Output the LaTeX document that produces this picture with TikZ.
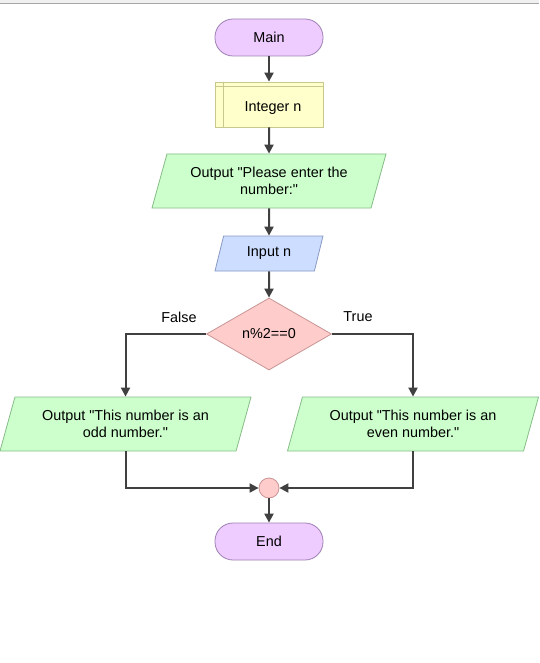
\documentclass[tikz,border=0pt]{standalone}
\usepackage{fontspec}
\setmainfont{Liberation Sans}[Ligatures=TeXOff]
\usetikzlibrary{arrows.meta, positioning, shapes.geometric}

\definecolor{termfill}{HTML}{EECCFF}
\definecolor{termline}{HTML}{9F80B3}
\definecolor{declfill}{HTML}{FFFFCC}
\definecolor{declline}{HTML}{C8C88C}
\definecolor{outfill}{HTML}{CCFFCC}
\definecolor{outline}{HTML}{86BC86}
\definecolor{infill}{HTML}{CCDDFF}
\definecolor{inline}{HTML}{8899C4}
\definecolor{decfill}{HTML}{FFCCCC}
\definecolor{decline}{HTML}{C99494}
\definecolor{flowgray}{HTML}{404040}

\begin{document}
\begin{tikzpicture}[x=1pt, y=-1pt, font=\fontsize{14.4}{17.5}\selectfont,
  term/.style={draw=termline, fill=termfill, line width=0.8pt, rounded corners=18pt,
    minimum width=108pt, minimum height=37pt},
  declbox/.style={draw=declline, fill=declfill, line width=0.8pt,
    minimum width=108pt, minimum height=45pt},
  iobox/.style={trapezium, trapezium stretches body, trapezium left angle=65,
    trapezium right angle=115, line width=0.8pt, align=center, inner sep=2pt},
  outbox/.style={iobox, draw=outline, fill=outfill},
  inbox/.style={iobox, draw=inline, fill=infill, trapezium left angle=63,
    trapezium right angle=117},
  decision/.style={diamond, draw=decline, fill=decfill, line width=0.8pt,
    aspect=1.74, minimum width=125pt, minimum height=72pt, inner sep=1pt},
  joint/.style={circle, draw=decline, fill=decfill, line width=0.8pt, minimum size=20pt, inner sep=0pt},
  flow/.style={draw=flowgray, line width=2pt, -{Triangle[length=9pt,width=9pt]}}]

% frame
\useasboundingbox (0,0) rectangle (539,663);
\fill[white] (0,0) rectangle (539,663);
\fill[gray!12] (0,0) rectangle (539,3);
\draw[gray!70, line width=1.5pt] (0,3.5) -- (539,3.5);

% blocks
\node[term] (main) at (269,37.5) {Main};
\node[declbox] (decl) at (269,104.5) {\hspace{8pt}\raisebox{-4pt}[\height][\depth]{Integer n}};
\draw[declline, line width=0.8pt] ([xshift=9pt]decl.north west) -- ([xshift=9pt]decl.south west);
\draw[declline, line width=0.8pt] ([yshift=-5pt]decl.north west) -- ([yshift=-5pt]decl.north east);
\node[outbox, minimum width=234pt, minimum height=54pt] (ask) at (269,181) {Output "Please enter the\\number:"};
\node[inbox, minimum width=108pt, minimum height=35pt] (read) at (269,253.5) {Input n};
\node[decision] (test) at (269,334) {n\%2==0};
\node (lblfalse) at (179,317) {False};
\node (lbltrue) at (358,317) {True};
\node[outbox, minimum width=251pt, minimum height=54pt] (odd) at (125.5,424) {Output "This number is an\\odd number."};
\node[outbox, minimum width=251pt, minimum height=54pt] (even) at (413,424) {Output "This number is an\\even number."};
\node[joint] (merge) at (269,488) {};
\node[term] (end) at (269,541.5) {End};

% connectors
\draw[flow] (main) -- (decl);
\draw[flow] (decl) -- (ask);
\draw[flow] (ask) -- (read);
\draw[flow] (read) -- (test);
\draw[flow] (test.west) -| (odd.north);
\draw[flow] (test.east) -| (even.north);
\draw[flow] (odd.south) |- (merge);
\draw[flow] (even.south) |- (merge);
\draw[flow] (merge) -- (end);
\end{tikzpicture}
\end{document}
